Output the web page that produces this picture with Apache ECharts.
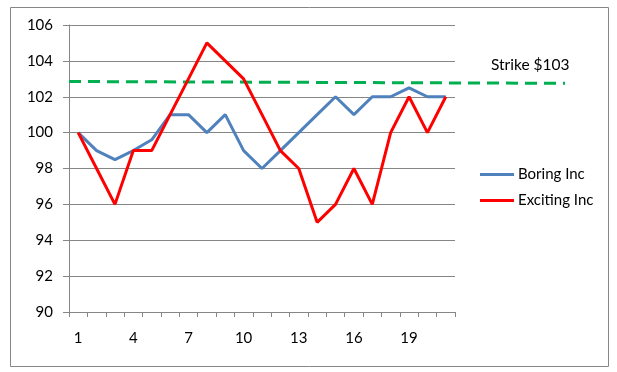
<!DOCTYPE html>
<html><head><meta charset="utf-8">
<script src="https://cdn.jsdelivr.net/npm/echarts@6/dist/echarts.min.js"></script>
<style>html,body{margin:0;padding:0;background:#fff}#c{width:617px;height:372px}</style>
</head><body><div id="c"></div>
<script>
const categories = ['1','2','3','4','5','6','7','8','9','10','11','12','13','14','15','16','17','18','19','20','21'];
const boring = [100,99,98.5,99,99.6,101,101,100,101,99,98,99,100,101,102,101,102,102,102.5,102,102];
const exciting = [100,98,96,99,99,101,103,105,104,103,101,99,98,95,96,98,96,100,102,100,102];
const strike = [[0,102.85],[1,102.75]];
const yTicks = [90,92,94,96,98,100,102,104,106];
const strikeLabel = 'Strike $103';
const FONT = 'Lato, "Open Sans", sans-serif';

const chart = echarts.init(document.getElementById('c'), null, {renderer:'canvas'});
chart.setOption({
  animation:false,
  backgroundColor:'#fff',
  textStyle:{fontFamily:FONT},
  graphic:[
    {type:'rect', shape:{x:10.5,y:7.5,width:598,height:359}, style:{fill:'none',stroke:'#868686',lineWidth:1}, z:-1},
    {type:'text', left:491, top:57, style:{text:strikeLabel, font:'15.5px '+FONT, fill:'#000'}}
  ],
  legend:{
    orient:'vertical', left:475, top:162, itemGap:11, itemWidth:34, itemHeight:3,
    icon:'rect',
    textStyle:{fontSize:15, color:'#000', fontFamily:FONT, padding:[0,0,0,-1]},
    data:['Boring Inc','Exciting Inc']
  },
  grid:[
    {left:69, top:25, width:386, height:287},
    {left:69, top:25, width:496, height:287}
  ],
  xAxis:[
    {type:'category', gridIndex:0, data:categories, boundaryGap:true,
     axisLine:{lineStyle:{color:'#868686',width:1}},
     axisTick:{show:true, interval:0, length:5, lineStyle:{color:'#868686'}},
     axisLabel:{interval:2, color:'#000', fontSize:15, margin:19, fontFamily:FONT},
     splitLine:{show:false}},
    {type:'value', gridIndex:1, min:0, max:1, show:false}
  ],
  yAxis:[
    {type:'value', gridIndex:0, min:yTicks[0], max:yTicks[yTicks.length-1], interval:2,
     axisLine:{show:true, lineStyle:{color:'#868686'}},
     axisTick:{show:true, length:6, lineStyle:{color:'#868686'}},
     axisLabel:{color:'#000', fontSize:15, margin:16, fontFamily:FONT},
     splitLine:{lineStyle:{color:'#868686',width:1}}},
    {type:'value', gridIndex:1, min:yTicks[0], max:yTicks[yTicks.length-1], show:false}
  ],
  series:[
    {name:'Boring Inc', type:'line', xAxisIndex:0, yAxisIndex:0, data:boring, symbol:'none',
     lineStyle:{color:'#4F81BD', width:3}, itemStyle:{color:'#4F81BD'}, z:3},
    {name:'Exciting Inc', type:'line', xAxisIndex:0, yAxisIndex:0, data:exciting, symbol:'none',
     lineStyle:{color:'#FF0000', width:3}, itemStyle:{color:'#FF0000'}, z:4},
    {name:'Strike', type:'line', xAxisIndex:1, yAxisIndex:1, data:strike, symbol:'none',
     lineStyle:{color:'#00B050', width:3, type:[12,7]}, z:2}
  ]
});
</script></body></html>
